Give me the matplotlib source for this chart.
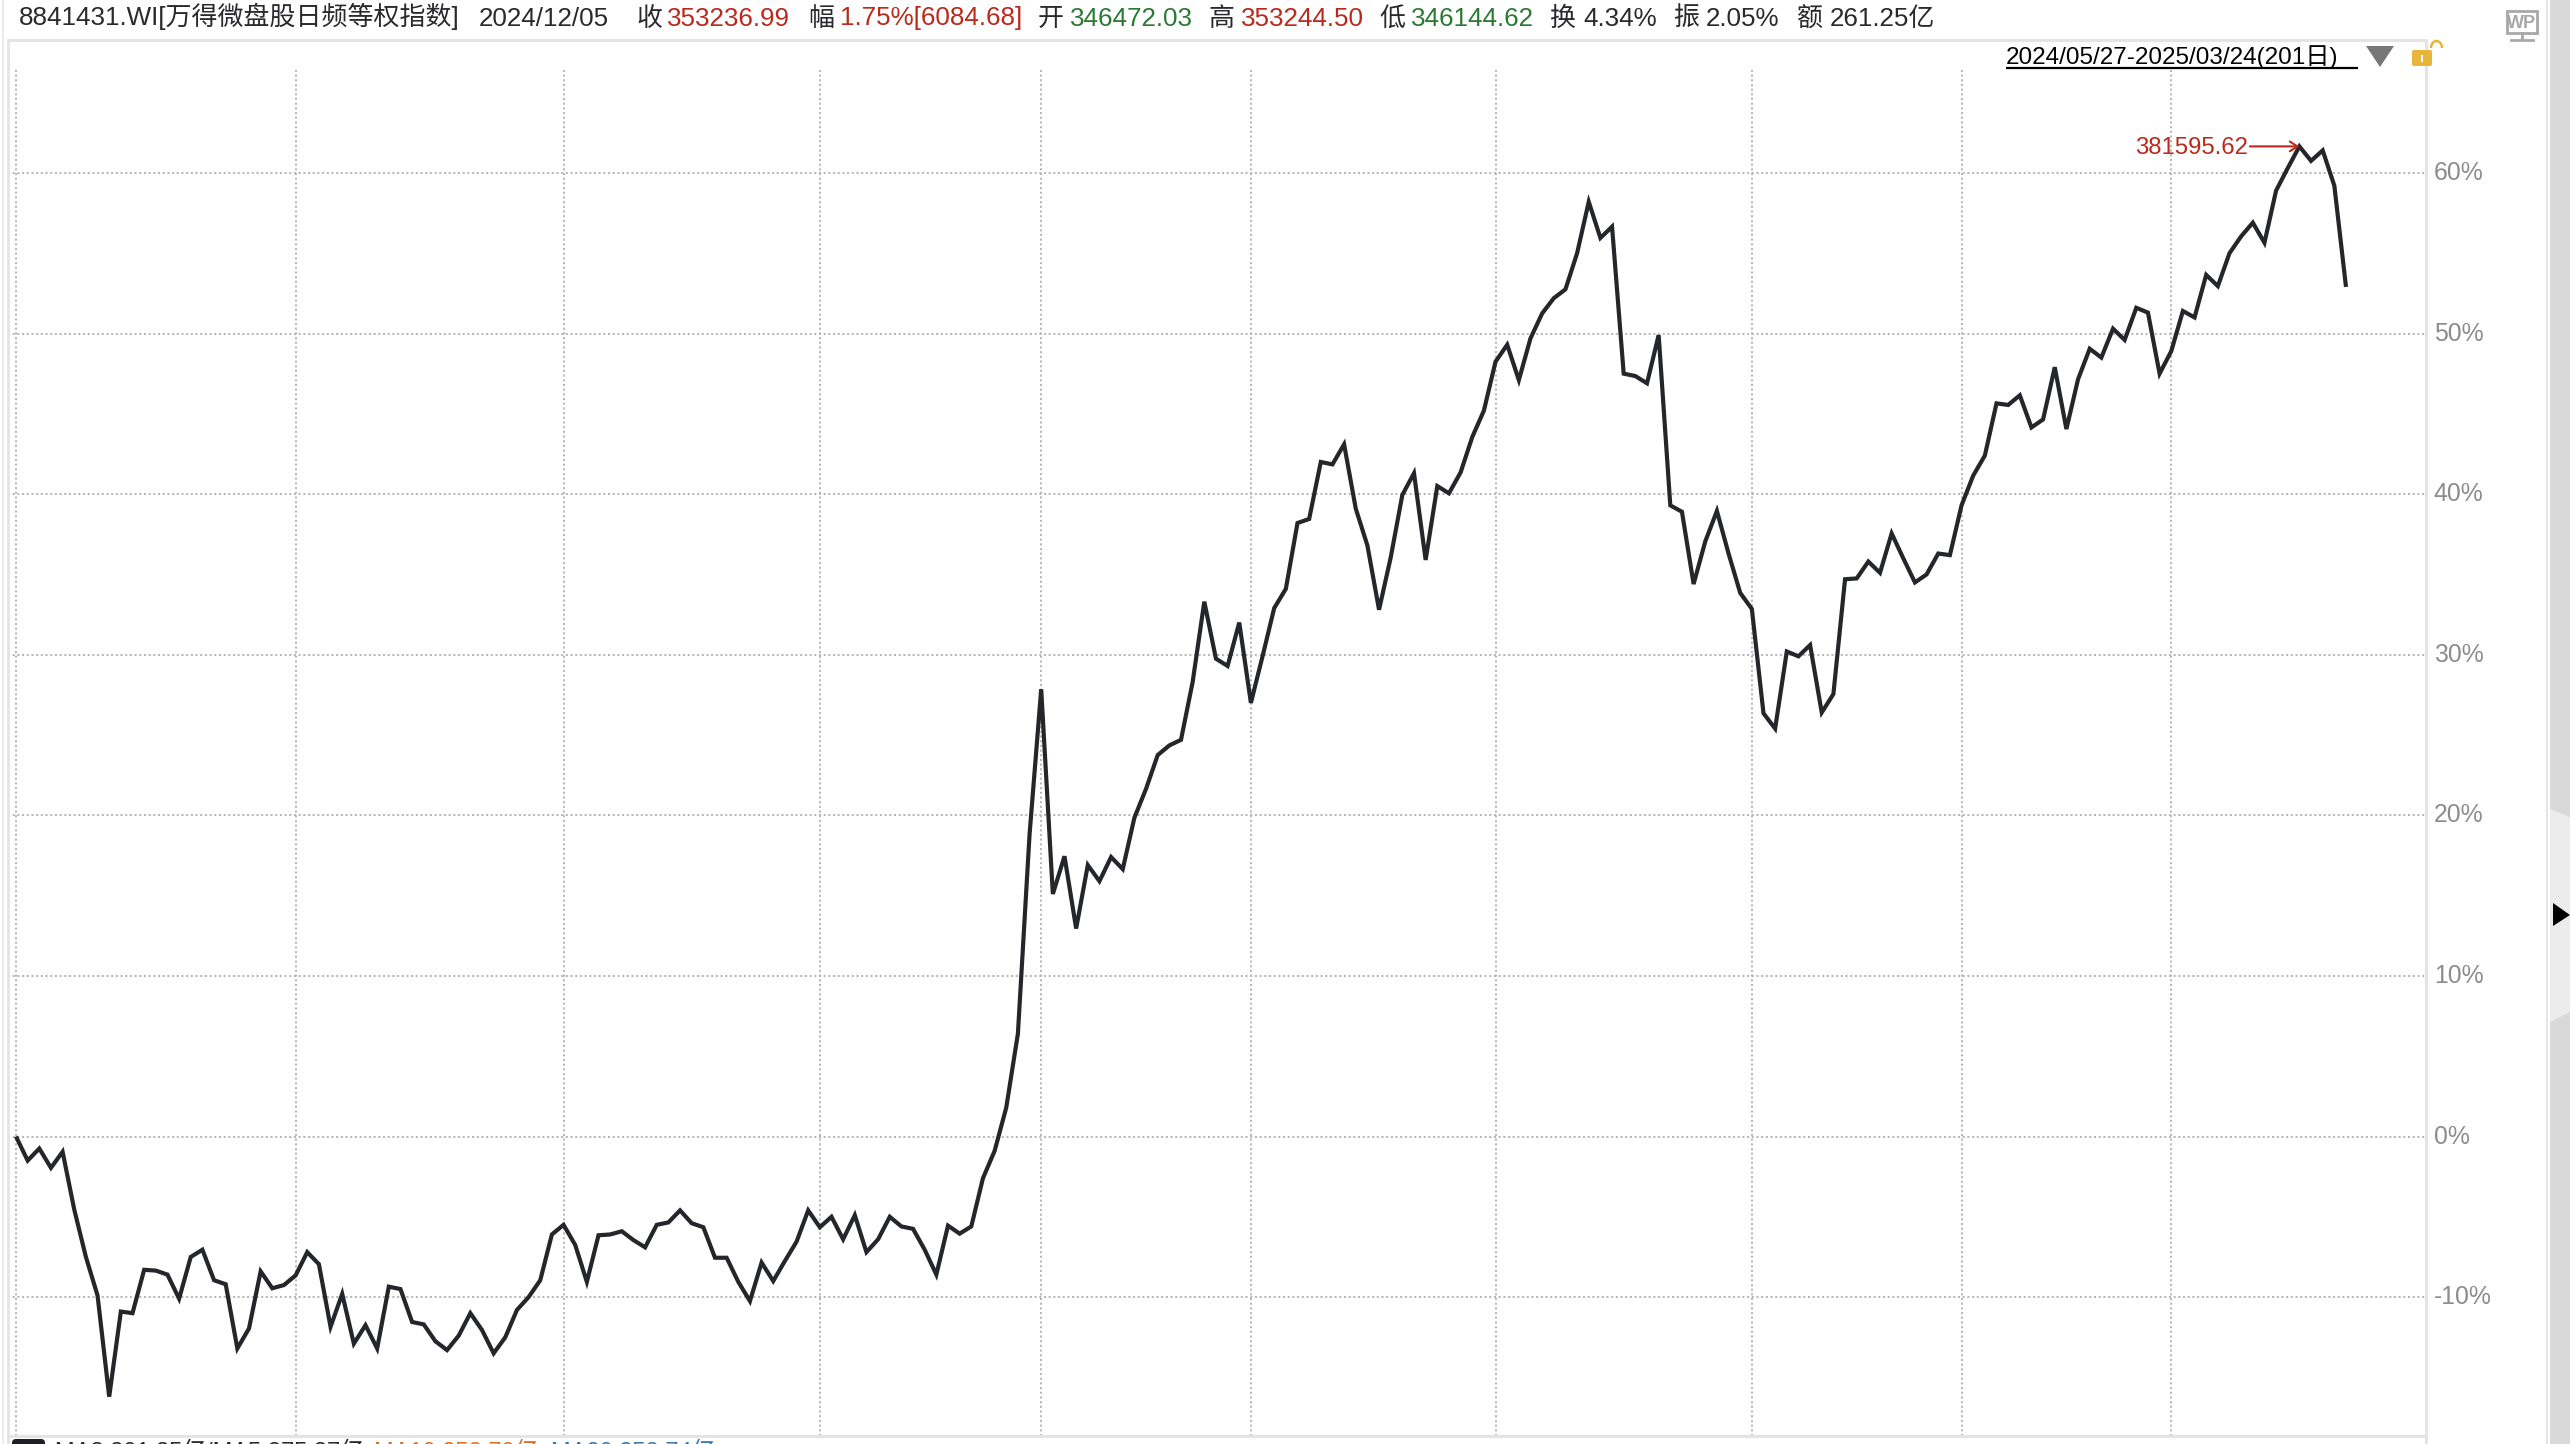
import matplotlib
matplotlib.use("Agg")
import matplotlib.pyplot as plt
from matplotlib.patches import Polygon, Rectangle, Arc, FancyBboxPatch

plt.rcParams['font.family'] = ['Liberation Sans', 'Noto Sans CJK SC', 'DejaVu Sans']

# ---- data: cumulative return (%) per trading day ----
returns_a = [0, -1.5, -0.75, -1.95, -0.95, -4.55, -7.5, -9.9, -16.2, -10.9,
             -11.0, -8.3, -8.35, -8.6, -10.1, -7.5, -7.05, -8.95, -9.2, -13.2,
             -11.95, -8.4, -9.45, -9.25, -8.65, -7.2, -7.95, -11.85, -9.8, -12.9,
             -11.75, -13.2, -9.35, -9.5, -11.55, -11.7, -12.75, -13.3, -12.4, -11.0,
             -12.05, -13.5, -12.5, -10.8, -10.0, -8.95, -6.1, -5.5, -6.75, -9.05,
             -6.15, -6.1, -5.9, -6.45, -6.9, -5.5, -5.35, -4.6, -5.4, -5.65,
             -7.55, -7.55, -9.05, -10.25, -7.85, -9.0, -7.75, -6.55, -4.6, -5.65,
             -5.0, -6.4, -4.9, -7.2, -6.4, -5.0, -5.6, -5.75, -7.05, -8.6,
             -5.55, -6.05, -5.6, -2.6, -0.9, 1.8, 6.4, 18.8, 27.85, 15.1]
returns_b = [17.45, 12.95, 16.9, 15.9, 17.4, 16.65, 19.85, 21.65, 23.75, 24.35,
             24.7, 28.3, 33.3, 29.75, 29.3, 32.0, 27.0, 29.9, 32.9, 34.1,
             38.2, 38.45, 42.0, 41.85, 43.1, 39.1, 36.8, 32.8, 36.05, 39.95,
             41.3, 35.9, 40.5, 40.05, 41.35, 43.55, 45.2, 48.25, 49.3, 47.1,
             49.7, 51.25, 52.2, 52.75, 55.0, 58.2, 55.95, 56.65, 47.5, 47.35,
             46.9, 49.9, 39.3, 38.9, 34.4, 37.05, 38.95, 36.3, 33.85, 32.85]
returns_c = [26.35, 25.4, 30.2, 29.9, 30.6, 26.4, 27.55, 34.7, 34.75, 35.8,
             35.1, 37.55, 36.0, 34.5, 35.0, 36.3, 36.2, 39.3, 41.15, 42.4,
             45.65, 45.55, 46.15, 44.15, 44.65, 47.9, 44.05, 47.15, 49.05, 48.5,
             50.3, 49.6, 51.6, 51.3, 47.5, 48.9, 51.4, 51.0, 53.65, 52.95,
             55.0, 56.05, 56.9, 55.65, 58.9, 60.3, 61.65, 60.75, 61.4, 59.2, 52.9]
returns = returns_a + returns_b + returns_c

y_ticks = [-10, 0, 10, 20, 30, 40, 50, 60]
y_tick_labels = ['-10%', '0%', '10%', '20%', '30%', '40%', '50%', '60%']
month_starts = [0, 24, 47, 69, 88, 106, 127, 149, 167, 185]
peak_index = 196
peak_label = '381595.62'
range_label = '2024/05/27-2025/03/24(201日)'

header_texts = ['8841431.WI[万得微盘股日频等权指数]', '2024/12/05', '收', '353236.99', '幅',
                '1.75%[6084.68]', '开', '346472.03', '高', '353244.50', '低', '346144.62',
                '换', '4.34%', '振', '2.05%', '额', '261.25亿']
footer_texts = ['MA3 301.35亿/MA5 275.87亿', 'MA10 253.70亿', 'MA20 258.74亿']

# ---- styles and layout ----
W, H = 2570, 1444
DARK, RED, GREEN, GREY = '#2a2a2e', '#b92a1c', '#2b7a34', '#8c8c8c'
header_colors = [DARK, DARK, DARK, RED, DARK, RED, DARK, GREEN, DARK, RED, DARK, GREEN,
                 DARK, DARK, DARK, DARK, DARK, DARK]
header_x = [19, 479, 636, 667, 808, 840, 1038, 1070, 1208, 1241, 1379, 1411,
            1549, 1583, 1673, 1706, 1797, 1830]
footer_x = [55, 374, 551]
footer_colors = [DARK, '#d9702a', '#3d78a8']
HEADER_PT = 18.7

fig = plt.figure(figsize=(W / 100, H / 100), dpi=100, facecolor='white')

# chart area, placed by pixels
L, R, T, B = 8, 2426, 40, 1436
ax = fig.add_axes([L / W, 1 - B / H, (R - L) / W, (B - T) / H])
x0, dx = 16.0, 11.65
y0, dy = 1136.5, 16.06
ax.set_xlim((L - x0) / dx, (R - x0) / dx)
ax.set_ylim((y0 - B) / dy, (y0 - T) / dy)
for s in ax.spines.values():
    s.set_visible(False)
ax.set_xticks([])
ax.yaxis.tick_right()
ax.set_yticks(y_ticks)
ax.set_yticklabels(y_tick_labels, color=GREY, fontsize=17.8, va='center')
ax.tick_params(axis='y', length=0, pad=5.5)
for lab in ax.get_yticklabels():
    lab.set_verticalalignment('center')

grid_style = dict(color='#b4b4b4', lw=1.35, ls=(0, (1.1, 1.4)), zorder=1)
for v in y_ticks:
    ax.axhline(v, **grid_style)
ax.vlines(month_starts, ax.get_ylim()[0], (y0 - 70) / dy, **grid_style)

ax.plot(range(len(returns)), returns, color='#25262b', lw=3.0, zorder=3,
        solid_joinstyle='miter', solid_capstyle='butt')

ax.annotate('', xy=(peak_index, returns[peak_index]),
            xytext=(peak_index - 4.25, returns[peak_index]),
            arrowprops=dict(arrowstyle='->,head_length=0.55,head_width=0.35', color=RED, lw=1.5,
                            shrinkA=0, shrinkB=0), zorder=4)
ax.text(peak_index - 4.4, returns[peak_index] - 0.08, peak_label, color=RED, fontsize=17.2,
        ha='right', va='center', zorder=4)

# page chrome, in pixel coordinates
ov = fig.add_axes([0, 0, 1, 1], facecolor='none')
ov.set_xlim(0, W)
ov.set_ylim(H, 0)
ov.axis('off')
EDGE = '#e4e4e4'
ov.plot([L, R, R], [T, T, H], color=EDGE, lw=2.2, solid_capstyle='butt')
ov.plot([L, L], [T, H], color=EDGE, lw=2.0)
ov.plot([L, R], [B, B], color=EDGE, lw=2.2)
ov.plot([3, 3], [0, H], color='#ececec', lw=1.4)
ov.plot([2547, 2547], [0, H], color='#e0e0e0', lw=1.2)
ov.add_patch(Rectangle((2550, 0), 20, H, color='#d9d9d9', lw=0))
ov.add_patch(Polygon([(2550, 809), (2570, 817), (2570, 1012), (2550, 1022)],
                     closed=True, color='#ececec', lw=0))
ov.add_patch(Polygon([(2553, 903), (2570, 915), (2553, 926)], closed=True, color='black', lw=0))

for t, x, c in zip(header_texts, header_x, header_colors):
    ov.text(x, 25.5, t, color=c, fontsize=HEADER_PT, ha='left', va='baseline')

# range selector
ov.text(2006, 64, range_label, color='black', fontsize=17.5, ha='left', va='baseline')
ov.plot([2006, 2358], [68, 68], color='black', lw=1.6, solid_capstyle='butt')
ov.add_patch(Polygon([(2366, 46), (2394, 46), (2380, 67)], closed=True, color='#777777', lw=0))
ov.add_patch(FancyBboxPatch((2412, 50), 20, 16, boxstyle='round,pad=0,rounding_size=2',
                            color='#e8b53c', lw=0, zorder=5))
ov.add_patch(Rectangle((2420.5, 55), 2.5, 7, color='white', lw=0, zorder=6))
ov.add_patch(Arc((2436.5, 48), 11, 14, theta1=180, theta2=360, color='#e8b53c', lw=1.8, zorder=5))

# WP monitor icon
ICON = '#a8a8a8'
ov.add_patch(Rectangle((2507, 11), 30, 21.5, fill=False, edgecolor=ICON, lw=2.0))
ov.text(2522, 28.5, 'WP', color=ICON, fontsize=13, fontweight='bold', ha='center', va='baseline')
ov.plot([2522, 2522], [33, 38], color=ICON, lw=2.0)
ov.plot([2511, 2533], [40, 40], color=ICON, lw=2.0)

# footer row, cut by the lower edge of the image
ov.add_patch(FancyBboxPatch((12, 1439), 33, 20, boxstyle='round,pad=0,rounding_size=4',
                            color='#1f1f24', lw=0))
for t, x, c in zip(footer_texts, footer_x, footer_colors):
    ov.text(x, 1459, t, color=c, fontsize=17, ha='left', va='baseline')

fig.savefig('out.png', dpi=100)
